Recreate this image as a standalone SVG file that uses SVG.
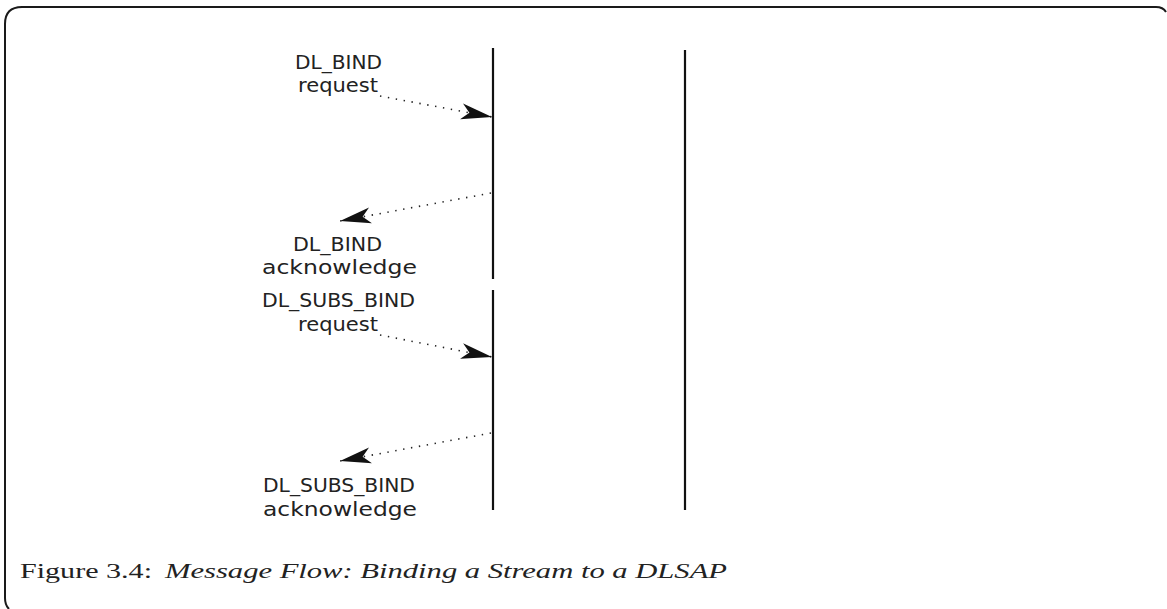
<svg xmlns="http://www.w3.org/2000/svg" width="1167" height="609" viewBox="0 0 1167 609">
  <style>
    .frame { fill: none; stroke: #1a1a1a; stroke-width: 2; }
    .life { stroke: #111; stroke-width: 2.2; }
    .msg { fill: none; stroke: #222; stroke-width: 1.6; stroke-dasharray: 1.4 6.6; }
    .lbl { font-family: "DejaVu Sans", "Liberation Sans", sans-serif; font-size: 19px; fill: #222; }
    .cap { font-family: "Liberation Serif", serif; font-size: 20px; fill: #222; }
  </style>
  <defs>
    <marker id="barb" markerUnits="userSpaceOnUse" markerWidth="34" markerHeight="20" viewBox="-32 -10 34 20" refX="0" refY="0" orient="auto">
      <path d="M0,0 L-31,-8 L-23,0 L-31,8 Z" fill="#111"/>
    </marker>
  </defs>

  <!-- outer frame: top and left edges with rounded ends -->
  <path class="frame" d="M5,598 L5,24 Q5,7 22,7 L1156,7 Q1163,7 1166,12"/>
  <path class="frame" d="M5,598 Q5,605 9,609"/>

  <!-- lifelines -->
  <g id="lifelines">
    <line class="life" x1="493" y1="48" x2="493" y2="279"/>
    <line class="life" x1="493" y1="290" x2="493" y2="510"/>
    <line class="life" x1="685" y1="50" x2="685" y2="510"/>
  </g>

  <!-- message arrows -->
  <g id="connectors">
    <line class="msg" x1="380" y1="96" x2="492" y2="117" marker-end="url(#barb)"/>
    <line class="msg" x1="491" y1="193" x2="340" y2="221" marker-end="url(#barb)"/>
    <line class="msg" x1="380" y1="335" x2="492" y2="357" marker-end="url(#barb)"/>
    <line class="msg" x1="491" y1="433" x2="340" y2="461" marker-end="url(#barb)"/>
  </g>

  <g id="bind-request">
    <text class="lbl" x="295" y="69" textLength="87" lengthAdjust="spacingAndGlyphs">DL_BIND</text>
    <text class="lbl" x="298" y="92" textLength="80" lengthAdjust="spacingAndGlyphs">request</text>
  </g>
  <g id="bind-ack">
    <text class="lbl" x="293" y="251" textLength="89" lengthAdjust="spacingAndGlyphs">DL_BIND</text>
    <text class="lbl" x="262" y="274" textLength="155" lengthAdjust="spacingAndGlyphs">acknowledge</text>
  </g>
  <g id="subs-bind-request">
    <text class="lbl" x="262" y="307" textLength="153" lengthAdjust="spacingAndGlyphs">DL_SUBS_BIND</text>
    <text class="lbl" x="298" y="331" textLength="80" lengthAdjust="spacingAndGlyphs">request</text>
  </g>
  <g id="subs-bind-ack">
    <text class="lbl" x="263" y="492" textLength="152" lengthAdjust="spacingAndGlyphs">DL_SUBS_BIND</text>
    <text class="lbl" x="263" y="516" textLength="154" lengthAdjust="spacingAndGlyphs">acknowledge</text>
  </g>

  <!-- caption -->
  <g id="caption">
    <text class="cap" x="20" y="578" textLength="132" lengthAdjust="spacingAndGlyphs">Figure 3.4:</text>
    <text class="cap" x="165" y="578" font-style="italic" textLength="562" lengthAdjust="spacingAndGlyphs">Message Flow: Binding a Stream to a DLSAP</text>
  </g>
</svg>
